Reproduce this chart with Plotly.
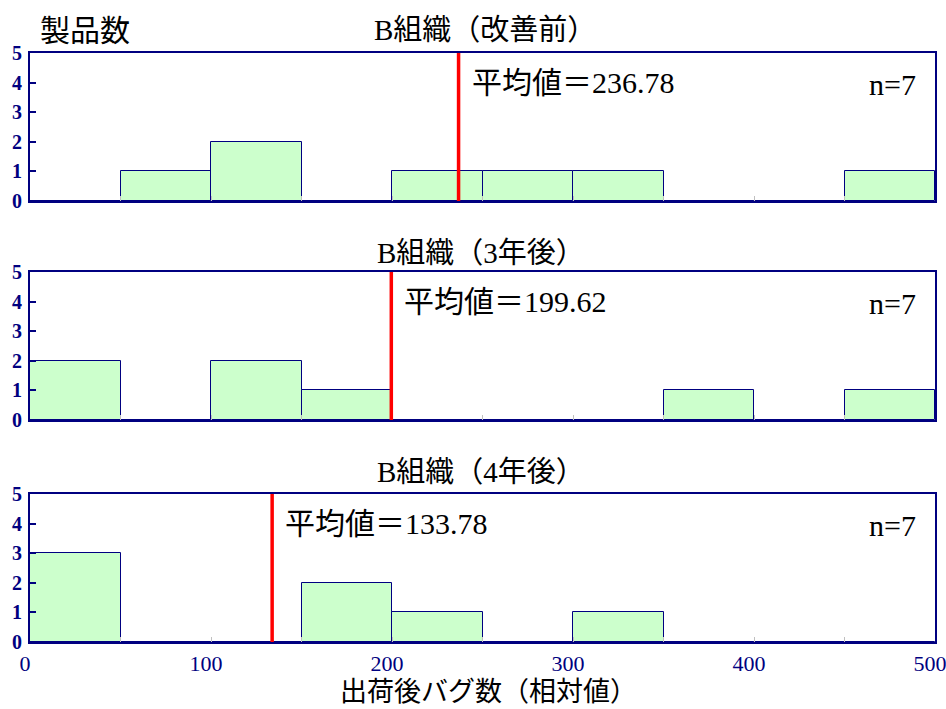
import plotly.graph_objects as go

# Histogram bins (width 50, from 0 to 500)
bin_centers = [25, 75, 125, 175, 225, 275, 325, 375, 425, 475]
bin_width = 50

# Product counts per bin for each period
counts_before = [0, 1, 2, 0, 1, 1, 1, 0, 0, 1]
counts_3y = [2, 0, 2, 1, 0, 0, 0, 1, 0, 1]
counts_4y = [3, 0, 0, 2, 1, 0, 1, 0, 0, 0]

means = [236.78, 199.62, 133.78]
panel_titles = ["B組織（改善前）", "B組織（3年後）", "B組織（4年後）"]
sample_sizes = [7, 7, 7]

x_tick_values = [0, 100, 200, 300, 400, 500]
y_tick_values = [0, 1, 2, 3, 4, 5]

NAVY = "#000080"
FILL = "#ccffcc"
SERIF = "Liberation Serif, Noto Sans CJK JP, serif"

W, H = 946, 709
# panel pixel extents (top, bottom), title centre offset above, title left edge
panels_px = [(53, 201), (272, 420), (494, 642)]
title_gap = [23, 19, 22]
title_left = [372, 375, 375]


def dom(top, bottom):
    return [1 - bottom / H, 1 - top / H]


def px_x(px):
    return (px - 30) / 905


fig = go.Figure()
series = [counts_before, counts_3y, counts_4y]

for i, counts in enumerate(series):
    n = i + 1
    xa = "x" if n == 1 else f"x{n}"
    ya = "y" if n == 1 else f"y{n}"
    fig.add_trace(go.Bar(
        x=bin_centers, y=counts, width=bin_width,
        marker=dict(color=FILL, line=dict(color=NAVY, width=1)),
        xaxis=xa, yaxis=ya, showlegend=False, hoverinfo="skip",
    ))

layout = dict(
    width=W, height=H,
    margin=dict(l=30, r=11, t=0, b=0),
    paper_bgcolor="white", plot_bgcolor="white",
    bargap=0, showlegend=False,
    font=dict(family=SERIF, color="black"),
)

for i in range(3):
    n = i + 1
    key_x = "xaxis" if n == 1 else f"xaxis{n}"
    key_y = "yaxis" if n == 1 else f"yaxis{n}"
    top, bottom = panels_px[i]
    layout[key_x] = dict(
        domain=[0, 1], range=[0, 500], anchor="y" if n == 1 else f"y{n}",
        showline=True, linecolor=NAVY, linewidth=2, mirror=True,
        showgrid=False, zeroline=False,
        tickvals=x_tick_values, ticks="inside", ticklen=5, tickcolor="#c0c0c0",
        minor=dict(dtick=50, ticks="inside", ticklen=5, tickcolor="#c0c0c0"),
        showticklabels=(n == 3),
        tickfont=dict(family=SERIF, size=22, color=NAVY),
        ticklabelshift=-5, ticklabelstandoff=1,
        ticklabeloverflow="allow",
        automargin=False, fixedrange=True,
    )
    layout[key_y] = dict(
        domain=dom(top, bottom), range=[0, 5], anchor="x" if n == 1 else f"x{n}",
        showline=True, linecolor=NAVY, linewidth=2, mirror=True,
        showgrid=False, zeroline=False,
        tickvals=y_tick_values,
        ticktext=[f"<b>{v}</b>" for v in y_tick_values],
        ticks="inside", ticklen=6, tickcolor=NAVY, tickwidth=1.5,
        tickfont=dict(family=SERIF, size=20, color=NAVY),
        ticklabelstandoff=2,
        ticklabeloverflow="allow",
        automargin=False, fixedrange=True,
    )

fig.update_layout(**layout)

shapes = []
annotations = []
for i in range(3):
    n = i + 1
    xr = "x" if n == 1 else f"x{n}"
    yr = "y" if n == 1 else f"y{n}"
    top, bottom = panels_px[i]
    # mean line
    shapes.append(dict(type="line", xref=xr, yref=yr,
                       x0=means[i], x1=means[i], y0=0, y1=5,
                       line=dict(color="#ff0000", width=3.5)))
    # mean label
    annotations.append(dict(
        xref=xr, yref=f"{yr} domain", x=means[i], y=0.80,
        xanchor="left", yanchor="middle", xshift=11,
        text=f"平均値＝{means[i]:.2f}", showarrow=False,
        font=dict(family=SERIF, size=30, color="black"),
    ))
    # sample size
    annotations.append(dict(
        xref=f"{xr} domain", yref=f"{yr} domain", x=1, y=0.79,
        xanchor="right", yanchor="middle", xshift=-17,
        text=f"n={sample_sizes[i]}", showarrow=False,
        font=dict(family=SERIF, size=30, color="black"),
    ))
    # panel title
    annotations.append(dict(
        xref="paper", yref="paper", x=px_x(title_left[i]),
        y=1 - (top - title_gap[i]) / H,
        xanchor="left", yanchor="middle",
        text=panel_titles[i], showarrow=False,
        font=dict(family=SERIF, size=29, color="black"),
    ))

# y axis caption
annotations.append(dict(
    xref="paper", yref="paper", x=px_x(38), y=1 - 30 / H,
    xanchor="left", yanchor="middle", text="製品数", showarrow=False,
    font=dict(family=SERIF, size=30, color="black"),
))
# x axis caption, sitting on the bottom edge of the page
annotations.append(dict(
    xref="paper", yref="paper", x=px_x(338), y=0,
    xanchor="left", yanchor="bottom", text="出荷後バグ数（相対値）",
    showarrow=False, font=dict(family=SERIF, size=27, color="black"),
))

fig.update_layout(shapes=shapes, annotations=annotations)
fig.write_html("out.html")
